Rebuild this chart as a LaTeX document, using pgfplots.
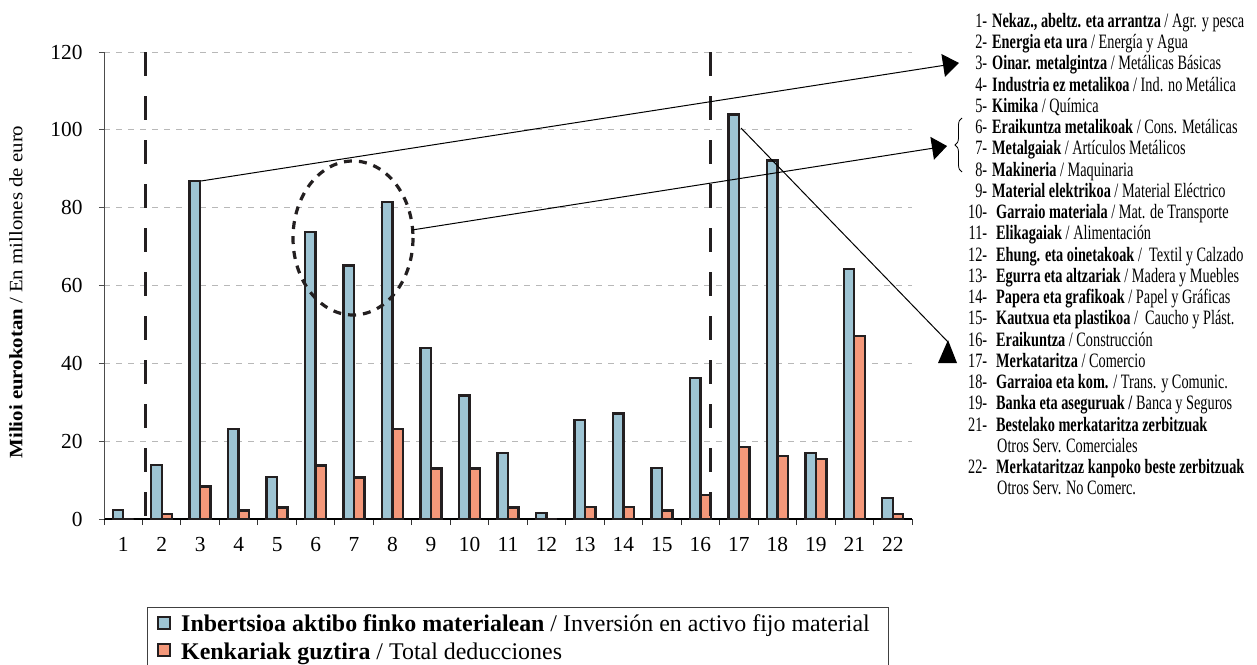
\documentclass[border=0pt]{standalone}
\usepackage{fontspec}
\setmainfont{Liberation Serif}
\newfontfamily\condfont{Liberation Serif}[FakeStretch=0.70]
\newfontfamily\labfont{Liberation Serif}[FakeStretch=1.1]
\usepackage{pgfplots}
\usepackage{pgfplotstable}
\pgfplotsset{compat=1.18}
\usetikzlibrary{arrows.meta,decorations.pathreplacing}

\definecolor{barblue}{RGB}{158,196,211}
\definecolor{barorange}{RGB}{244,152,122}
\definecolor{barline}{RGB}{35,31,32}

% x = position, lab = sector number, inv = inversion, ded = deducciones
\pgfplotstableread{
x lab inv ded
0 1 2.3 0
1 2 13.9 1.3
2 3 86.9 8.4
3 4 23.1 2.2
4 5 10.8 3.0
5 6 73.7 13.8
6 7 65.1 10.7
7 8 81.4 23.1
8 9 44.0 13.0
9 10 31.7 13.0
10 11 17.0 3.0
11 12 1.5 0
12 13 25.4 3.1
13 14 27.1 3.1
14 15 13.1 2.2
15 16 36.3 6.1
16 17 103.9 18.5
17 18 92.1 16.2
18 19 17.0 15.4
19 21 64.3 47.1
20 22 5.4 1.3
}\datatable

\newcommand\nm[2][5bp]{\makebox[30bp][r]{#2}\hspace{#1}}

\begin{document}
\begin{tikzpicture}
\path[use as bounding box] (0,0) rectangle (1257bp,-665bp);
\begin{axis}[
  at={(104bp,-519bp)}, anchor=south west,
  scale only axis, width=808bp, height=467bp,
  xmin=-0.5, xmax=20.5, ymin=0, ymax=120,
  ybar=0pt, bar width=10.5bp,
  axis lines*=left,
  x axis line style={black, line width=1.2bp},
  y axis line style={black!70, line width=1bp},
  xtick={0,...,20},
  xticklabels={1,2,3,4,5,6,7,8,9,10,11,12,13,14,15,16,17,18,19,21,22},
  minor xtick={-0.5,0.5,...,20.5},
  major x tick style={draw=none},
  minor x tick style={draw=black!80, line width=1bp},
  ytick={0,20,...,120},
  tick align=outside, tick pos=left,
  major tick length=5bp, minor tick length=6bp,
  y tick style={draw=black!70, line width=1bp},
  ymajorgrids,
  major grid style={draw=black!28, line width=1bp, dash pattern=on 6bp off 6bp},
  /pgf/number format/assume math mode=true,
  tick label style={font=\fontsize{21.5}{24}\selectfont},
  yticklabel style={xshift=-13bp},
  xticklabel style={yshift=-10bp},
  every axis plot/.append style={draw=barline, line width=2.4bp},
]
\addplot[fill=barblue] table[x=x, y=inv] {\datatable};
\addplot[fill=barorange] table[x=x, y=ded] {\datatable};
\end{axis}

\begin{scope}[x=1bp, y=-1bp]
  % separators
  \draw[line width=3bp, barline, dash pattern=on 24bp off 20bp] (145.5,52) -- (145.5,519);
  \draw[line width=3bp, barline, dash pattern=on 24bp off 20bp] (710.5,52) -- (710.5,519);
  % dashed ellipse
  \draw[line width=3.2bp, barline, dash pattern=on 8bp off 7bp] (353,238) ellipse [x radius=60, y radius=77];
  % arrows
  \draw[line width=1bp, -{Triangle[length=16bp, width=23bp]}] (201,181) -- (959,63);
  \draw[line width=1bp, -{Triangle[length=15bp, width=23bp]}] (412,230) -- (947,146);
  \draw[line width=1bp] (741,128) -- (948,342);
  \fill (948,340) -- (957,363) -- (938,363) -- cycle;
  % brace
  \draw[line width=0.8bp, decorate, decoration={brace, amplitude=7bp}] (962,172) -- (962,118);

  % sector list
  \foreach \t [count=\i from 0] in {
    {\nm{1-}\textbf{Nekaz., abeltz. eta arrantza} / Agr. y pesca},
    {\nm{2-}\textbf{Energia eta ura} / Energía y Agua},
    {\nm{3-}\textbf{Oinar. metalgintza} / Metálicas Básicas},
    {\nm{4-}\textbf{Industria ez metalikoa} / Ind. no Metálica},
    {\nm{5-}\textbf{Kimika} / Química},
    {\nm{6-}\textbf{Eraikuntza metalikoak} / Cons. Metálicas},
    {\nm{7-}\textbf{Metalgaiak} / Artículos Metálicos},
    {\nm{8-}\textbf{Makineria} / Maquinaria},
    {\nm{9-}\textbf{Material elektrikoa} / Material Eléctrico},
    {\nm[9bp]{10-}\textbf{Garraio materiala} / Mat. de Transporte},
    {\nm[9bp]{11-}\textbf{Elikagaiak} / Alimentación},
    {\nm[9bp]{12-}\textbf{Ehung. eta oinetakoak} /\ \ Textil y Calzado},
    {\nm[9bp]{13-}\textbf{Egurra eta altzariak} / Madera y Muebles},
    {\nm[9bp]{14-}\textbf{Papera eta grafikoak} / Papel y Gráficas},
    {\nm[9bp]{15-}\textbf{Kautxua eta plastikoa} /\ \ Caucho y Plást.},
    {\nm[9bp]{16-}\textbf{Eraikuntza} / Construcción},
    {\nm[9bp]{17-}\textbf{Merkataritza} / Comercio},
    {\nm[9bp]{18-}\textbf{Garraioa eta kom.} / Trans. y Comunic.},
    {\nm[9bp]{19-}\textbf{Banka eta aseguruak /} Banca y Seguros},
    {\nm[9bp]{21-}\textbf{Bestelako merkataritza zerbitzuak}},
    {\hspace{40bp}Otros Serv. Comerciales},
    {\nm[9bp]{22-}\textbf{Merkataritzaz kanpoko beste zerbitzuak}},
    {\hspace{40bp}Otros Serv. No Comerc.}
  } {
    \node[anchor=base west, inner sep=0, font=\condfont\fontsize{20.5}{22}\selectfont] at (957, 27.3+21.25*\i) {\t};
  }

  % y label
  \node[rotate=90, inner sep=0, font=\labfont\fontsize{19}{22}\selectfont] at (16,292)
    {\textbf{Milioi eurokotan} / En millones de euro};

  % legend
  \draw[line width=1bp, black!75] (147,607) rectangle (888,700);
  \draw[line width=2bp, barline, fill=barblue] (158,617) rectangle (170,629);
  \draw[line width=2bp, barline, fill=barorange] (158,644) rectangle (170,656);
  \node[anchor=base west, inner sep=0, font=\fontsize{24}{26}\selectfont] at (181,631)
    {\textbf{Inbertsioa aktibo finko materialean} / Inversión en activo fijo material};
  \node[anchor=base west, inner sep=0, font=\fontsize{24}{26}\selectfont] at (181,659)
    {\textbf{Kenkariak guztira} / Total deducciones};
\end{scope}
\end{tikzpicture}
\end{document}
